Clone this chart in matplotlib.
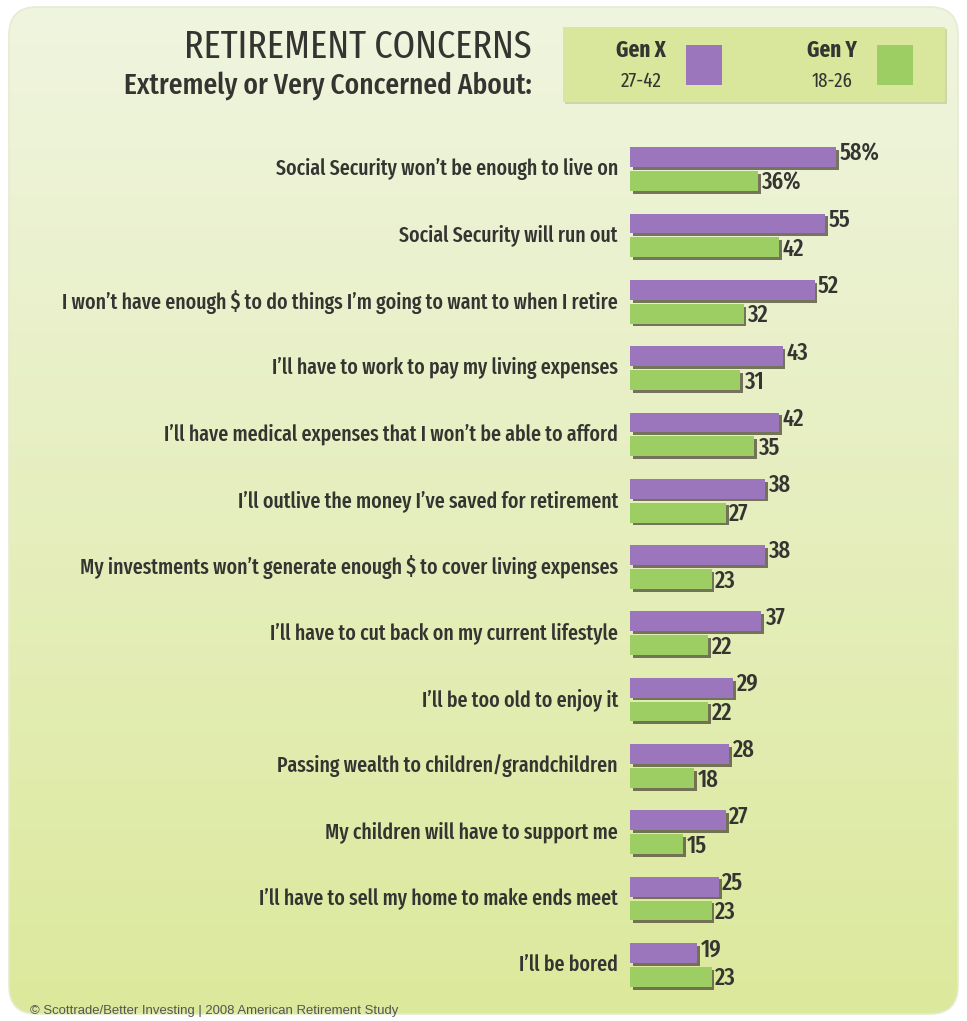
import numpy as np
import matplotlib
matplotlib.use("Agg")
import matplotlib.pyplot as plt
from matplotlib import font_manager as fm
from matplotlib.patches import FancyBboxPatch, Rectangle
import matplotlib.patheffects as pe

# ---- data ----
categories = [
    "Social Security won\u2019t be enough to live on",
    "Social Security will run out",
    "I won\u2019t have enough $ to do things I\u2019m going to want to when I retire",
    "I\u2019ll have to work to pay my living expenses",
    "I\u2019ll have medical expenses that I won\u2019t be able to afford",
    "I\u2019ll outlive the money I\u2019ve saved for retirement",
    "My investments won\u2019t generate enough $ to cover living expenses",
    "I\u2019ll have to cut back on my current lifestyle",
    "I\u2019ll be too old to enjoy it",
    "Passing wealth to children/grandchildren",
    "My children will have to support me",
    "I\u2019ll have to sell my home to make ends meet",
    "I\u2019ll be bored",
]
gen_x = [58, 55, 52, 43, 42, 38, 38, 37, 29, 28, 27, 25, 19]
gen_y = [36, 42, 32, 31, 35, 27, 23, 22, 22, 18, 15, 23, 23]
series_names = ["Gen X", "Gen Y"]
series_ages = ["27-42", "18-26"]

title = "RETIREMENT CONCERNS"
subtitle = "Extremely or Very Concerned About:"
source = "\u00a9 Scottrade/Better Investing | 2008 American Retirement Study"

PURPLE = "#9b76bd"
GREEN = "#9dce63"
TEXT = "#343431"


def _weight(e):
    try:
        return int(e.weight)
    except (TypeError, ValueError):
        return 700 if "bold" in str(e.weight) else 400


def find_narrow(weight=400):
    """Pick the narrowest installed condensed face near the requested weight."""
    groups = [("extracondensed", "extra-condensed", "extra condensed"),
              ("condensed", "narrow")]
    for keys in groups:
        best = None
        for e in fm.fontManager.ttflist:
            tag = (e.name + " " + str(e.stretch) + " " + e.fname).lower().replace("_", " ")
            if e.style != "normal" or not any(k in tag for k in keys):
                continue
            if keys[0] == "condensed" and ("extra" in tag or "ultra" in tag or "semi" in tag):
                continue
            w = _weight(e)
            # prefer the lighter face when two are equally close
            score = abs(w - weight) + (1 if w > weight else 0)
            if best is None or score < best[0]:
                best = (score, e.fname)
        if best is not None and best[0] <= 101:
            return fm.FontProperties(fname=best[1])
    return fm.FontProperties(family="Liberation Sans",
                             weight="bold" if weight >= 600 else "normal")


FP = find_narrow(400)
FPM = find_narrow(500)
FPB = find_narrow(700)

W, H = 967, 1021
fig = plt.figure(figsize=(W / 100, H / 100), dpi=100)
fig.patch.set_facecolor("white")
renderer = fig.canvas.get_renderer()


def fit(t, width_px):
    """Scale a text's size so that it spans the given pixel width."""
    w = t.get_window_extent(renderer).width
    t.set_fontsize(t.get_fontsize() * width_px / w)
    return t.get_fontsize()


# background canvas in pixel coordinates
bg = fig.add_axes([0, 0, 1, 1])
bg.set_xlim(0, W)
bg.set_ylim(H, 0)
bg.axis("off")

panel = FancyBboxPatch((9, 7), W - 18, H - 14,
                       boxstyle="round,pad=0,rounding_size=28",
                       facecolor="none", edgecolor="#e6ebd2", lw=1.2, zorder=2)
bg.add_patch(panel)
grad = np.linspace(0, 1, 256)
cols = np.array([[0.940, 0.960, 0.875], [0.905, 0.937, 0.760], [0.862, 0.914, 0.612]])
stops = np.array([0.0, 0.45, 1.0])
img = np.stack([np.interp(grad, stops, cols[:, c]) for c in range(3)], axis=-1)[:, None, :]
im = bg.imshow(img, extent=(9, W - 9, H - 7, 7), aspect="auto", zorder=1)
im.set_clip_path(panel)

# title block
t1 = bg.text(532, 47, title, ha="right", va="center", fontproperties=FP,
             fontsize=30, color=TEXT)
fit(t1, 347)
t2 = bg.text(532, 86, subtitle, ha="right", va="center", fontproperties=FPM,
             fontsize=22, color=TEXT)
fit(t2, 407)

# legend block
bg.add_patch(Rectangle((563, 27), 382, 75, facecolor="#d8e79c",
                       edgecolor="none", zorder=2,
                       path_effects=[pe.withSimplePatchShadow(offset=(1.5, -1.5),
                                                              shadow_rgbFace="#b8c48a",
                                                              alpha=0.6),
                                     pe.Normal()]))
for name, age, color, xc, xs in [(series_names[0], series_ages[0], PURPLE, 641, 686),
                                 (series_names[1], series_ages[1], GREEN, 832, 877)]:
    tn = bg.text(xc, 50, name, ha="center", va="center", fontproperties=FPB,
                 fontsize=15, color=TEXT, zorder=3)
    fit(tn, 50)
    ta = bg.text(xc, 81, age, ha="center", va="center", fontproperties=FP,
                 fontsize=14, color=TEXT, zorder=3)
    fit(ta, 41)
    bg.add_patch(Rectangle((xs, 45), 36, 40, facecolor=color,
                           edgecolor="none", zorder=3))

ts = bg.text(30, 1011, source, ha="left", va="center", fontsize=8,
             family="Liberation Sans", color="#555555")
fit(ts, 372)

# bar chart area: left edge at x=630 px, rows from y=136 to y=998 px
x0_px, x1_px = 630, 960
y0_px, y1_px = 136, 998
px_per_unit = 3.55
ax = fig.add_axes([x0_px / W, 1 - y1_px / H, (x1_px - x0_px) / W, (y1_px - y0_px) / H])
ax.set_xlim(0, (x1_px - x0_px) / px_per_unit)
n = len(categories)
ax.set_ylim(n - 0.5, -0.5)
ax.axis("off")
ax.patch.set_alpha(0)

idx = np.arange(n)
off = 0.18
bh = 0.30
shadow = [pe.withSimplePatchShadow(offset=(2, -2), shadow_rgbFace="#4e4a36", alpha=0.75),
          pe.Normal()]
ax.barh(idx - off, gen_x, height=bh, color=PURPLE, path_effects=shadow, zorder=3)
ax.barh(idx + off, gen_y, height=bh, color=GREEN, path_effects=shadow, zorder=3)

# size category labels from the longest one
longest = max(range(n), key=lambda k: len(categories[k]))
probe = ax.text(0, 0, categories[longest], fontproperties=FPM, fontsize=14)
cat_size = fit(probe, 556)
probe.remove()
probe = ax.text(0, 0, "58%", fontproperties=FPM, fontsize=14)
val_size = fit(probe, 40)
probe.remove()

for i in range(n):
    sx = f"{gen_x[i]}%" if i == 0 else f"{gen_x[i]}"
    sy = f"{gen_y[i]}%" if i == 0 else f"{gen_y[i]}"
    ax.text(gen_x[i] + 1.0, i - off - 0.05, sx, ha="left", va="center",
            fontproperties=FPM, fontsize=val_size, color=TEXT)
    ax.text(gen_y[i] + 1.0, i + off + 0.03, sy, ha="left", va="center",
            fontproperties=FPM, fontsize=val_size, color=TEXT)
    ax.text(-3.4, i, categories[i], ha="right", va="center",
            fontproperties=FPM, fontsize=cat_size, color=TEXT, clip_on=False)

fig.savefig("out.png", dpi=100, facecolor="white")
